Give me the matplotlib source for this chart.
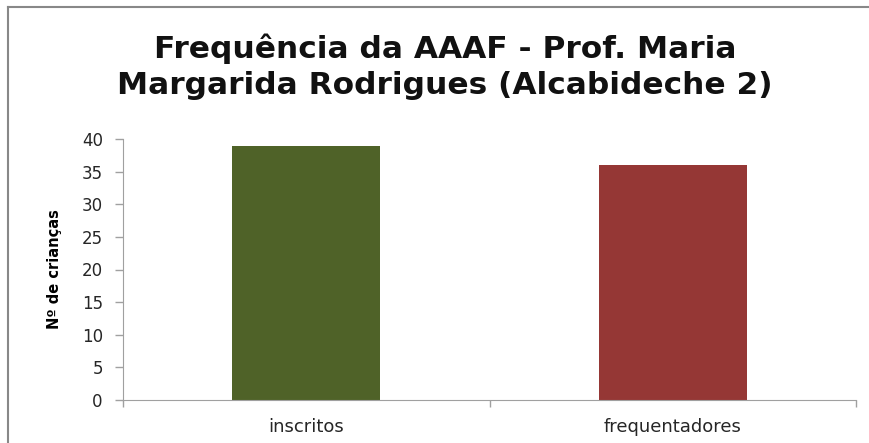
"""Bar chart: frequência da AAAF."""
import matplotlib.pyplot as plt
from matplotlib.lines import Line2D

categories = ["inscritos", "frequentadores"]
values = [39, 36]
colors = ["#4F6228", "#953735"]
y_ticks = [0, 5, 10, 15, 20, 25, 30, 35, 40]

title_lines = ["Frequência da AAAF - Prof. Maria", "Margarida Rodrigues (Alcabideche 2)"]
y_label = "Nº de crianças"

W, H = 869, 443
fig = plt.figure(figsize=(W / 100, H / 100), dpi=100)
ax = fig.add_axes([123 / W, 1 - 400 / H, 733 / W, 261 / H])

x = range(len(categories))
ax.bar(x, values, width=0.404, color=colors)

ax.set_xlim(-0.5, len(categories) - 0.5)
ax.set_ylim(0, 40)
ax.set_yticks(y_ticks)
ax.set_xticks(list(x))
ax.set_xticklabels(categories, fontfamily="DejaVu Sans", fontsize=13, color="#262626")
ax.set_xticks([-0.5, 0.5, 1.5], minor=True)
ax.tick_params(axis="x", which="major", length=0, pad=13)
ax.tick_params(axis="x", which="minor", length=5, color="#a0a0a0", width=1)
ax.tick_params(axis="y", length=5.5, color="#a0a0a0", width=1, pad=9,
               labelsize=12, labelcolor="#262626")
for lbl in ax.get_yticklabels():
    lbl.set_fontfamily("DejaVu Sans")

for side in ("top", "right"):
    ax.spines[side].set_visible(False)
for side in ("left", "bottom"):
    ax.spines[side].set_color("#a0a0a0")

ax.set_ylabel(y_label, fontfamily="DejaVu Sans", fontweight="bold", fontsize=10.5)
ax.yaxis.set_label_coords(-0.083, 0.5)

# title as two lines, baselines placed separately
for line, base in zip(title_lines, (58, 94)):
    fig.text(445 / W, 1 - base / H, line, ha="center", va="baseline",
             fontfamily="DejaVu Sans", fontweight="bold", fontsize=22.5, color="#111111")

# outer frame (only left and top visible in the crop)
fig.add_artist(Line2D([8 / W, 8 / W], [0, 1 - 7 / H], color="#888888", lw=1.5))
fig.add_artist(Line2D([8 / W, 1], [1 - 7 / H, 1 - 7 / H], color="#888888", lw=1.5))

fig.savefig("out.png", dpi=100)
plt.close(fig)
